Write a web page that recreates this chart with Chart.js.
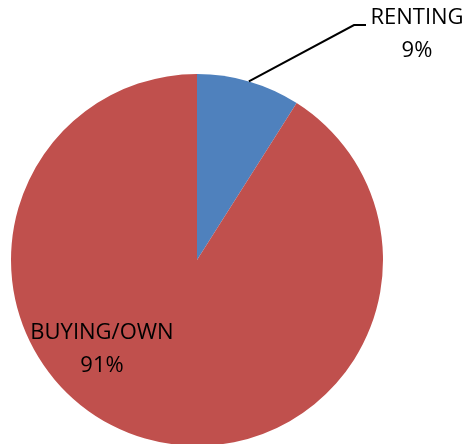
<!DOCTYPE html>
<html>
<head>
<meta charset="utf-8">
<script src="https://cdn.jsdelivr.net/npm/chart.js@4"></script>
<style>
  html, body { margin: 0; padding: 0; background: #fff; overflow: hidden; }
  #wrap { position: relative; width: 469px; height: 447px; }
</style>
</head>
<body>
<div id="wrap"><canvas id="chart"></canvas></div>
<script>
const labels = ["RENTING", "BUYING/OWN"];
const shares = [9, 91];
const colors = ["#4F81BD", "#C0504D"];

const FONT = '22px "Open Sans", sans-serif';

// Draw the data labels the way the spreadsheet did
const pieLabels = {
  id: "pieLabels",
  afterDatasetsDraw(chart) {
    const ctx = chart.ctx;
    const arcs = chart.getDatasetMeta(0).data;
    ctx.save();
    ctx.font = FONT;
    ctx.fillStyle = "#000";
    ctx.textAlign = "center";
    ctx.textBaseline = "middle";

    // renting: outside with leader line from the middle of the slice edge
    const a = arcs[0];
    const mid = (a.startAngle + a.endAngle) / 2;
    const sx = a.x + Math.cos(mid) * a.outerRadius;
    const sy = a.y + Math.sin(mid) * a.outerRadius;
    ctx.strokeStyle = "#000";
    ctx.lineWidth = 2;
    ctx.beginPath();
    ctx.moveTo(sx, sy);
    ctx.lineTo(354, 25);
    ctx.lineTo(366, 25);
    ctx.stroke();
    ctx.fillText(labels[0], 417, 18);
    ctx.fillText(shares[0] + "%", 417, 51);

    // buying/own: inside the slice, lower left
    ctx.fillText(labels[1], 102, 333);
    ctx.fillText(shares[1] + "%", 102, 366);
    ctx.restore();
  },
};

new Chart(document.querySelector("#chart"), {
  type: "pie",
  data: {
    labels: labels,
    datasets: [
      {
        data: shares,
        backgroundColor: colors,
        borderWidth: 0,
      },
    ],
  },
  options: {
    responsive: true,
    maintainAspectRatio: false,
    animation: false,
    layout: { padding: { top: 73, left: 11, right: 86, bottom: 0 } },
    plugins: {
      legend: { display: false },
      tooltip: { enabled: false },
    },
  },
  plugins: [pieLabels],
});
</script>
</body>
</html>
